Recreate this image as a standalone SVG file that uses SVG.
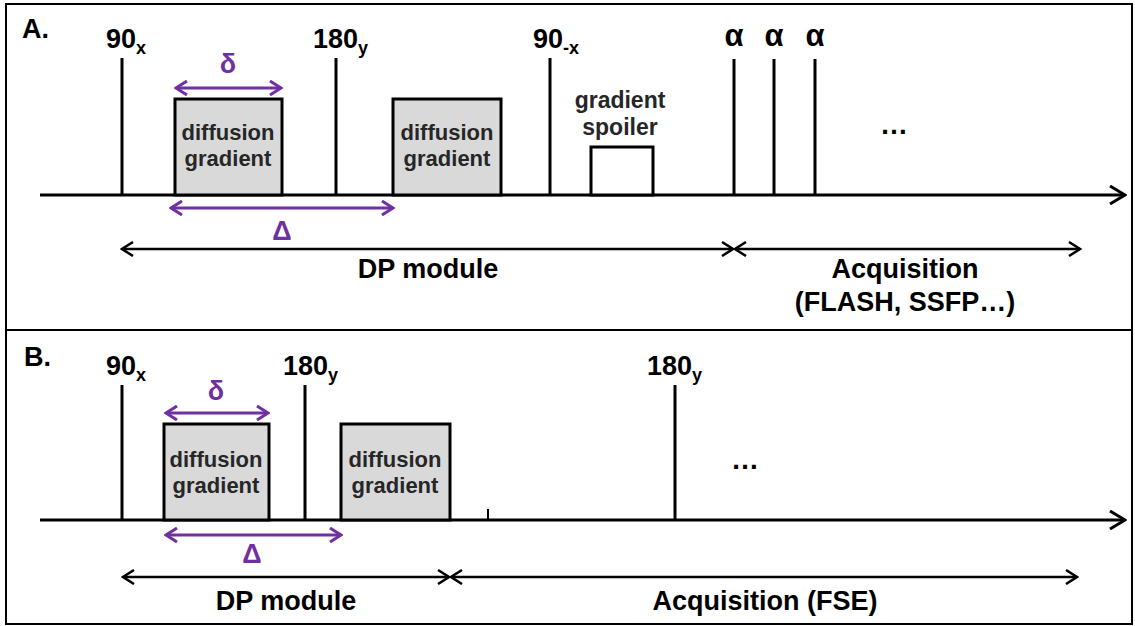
<svg xmlns="http://www.w3.org/2000/svg" width="1135" height="626" viewBox="0 0 1135 626">
<style>
text{font-family:"Liberation Sans",Arial,sans-serif;font-weight:bold;fill:#000}
.lbl{font-size:27px}
.alp{font-size:31px}
.sub{font-size:18px}
.box{font-size:22px;fill:#262626}
.dots{font-size:28px}
.pur{fill:#7030a0;font-size:27px}
.pulse{stroke:#000;stroke-width:3}
.grad{fill:#d9d9d9;stroke:#000;stroke-width:3}
.axis{stroke:#000;stroke-width:3;fill:none}
.parr{stroke:#7030a0;stroke-width:3;fill:none}
.barr{stroke:#000;stroke-width:2.5;fill:none}
</style>
<defs>
<marker id="ax" viewBox="0 0 18 20" refX="16" refY="10" markerWidth="18" markerHeight="20" markerUnits="userSpaceOnUse" orient="auto"><path d="M1,1 L16,10 L1,19" fill="none" stroke="#000" stroke-width="3"/></marker>
<marker id="pm" viewBox="0 0 14 16" refX="12" refY="8" markerWidth="14" markerHeight="16" markerUnits="userSpaceOnUse" orient="auto-start-reverse"><path d="M1,1 L12,8 L1,15" fill="none" stroke="#7030a0" stroke-width="3"/></marker>
<marker id="bm" viewBox="0 0 14 16" refX="12" refY="8" markerWidth="14" markerHeight="16" markerUnits="userSpaceOnUse" orient="auto-start-reverse"><path d="M1,1 L12,8 L1,15" fill="none" stroke="#000" stroke-width="2.5"/></marker>
</defs>
<rect x="0" y="0" width="1135" height="626" fill="#fff"/>
<rect x="6" y="4" width="1126" height="620" fill="none" stroke="#000" stroke-width="2"/>
<line x1="6" y1="330" x2="1132" y2="330" stroke="#000" stroke-width="2"/>

<!-- Panel A -->
<g id="panelA-label"><text class="lbl" x="22" y="38">A.</text></g>
<g id="A-axis"><line class="axis" x1="40" y1="195" x2="1125" y2="195" marker-end="url(#ax)"/></g>
<g id="A-90x"><line class="pulse" x1="122" y1="58" x2="122" y2="195"/><text class="lbl" x="106" y="48">90<tspan class="sub" dy="6">x</tspan></text></g>
<g id="A-grad1"><rect class="grad" x="175" y="99" width="107" height="96"/><text class="box" text-anchor="middle" x="228" y="140">diffusion</text><text class="box" text-anchor="middle" x="228" y="166">gradient</text></g>
<g id="A-180y"><line class="pulse" x1="336" y1="58" x2="336" y2="195"/><text class="lbl" x="313" y="48">180<tspan class="sub" dy="6">y</tspan></text></g>
<g id="A-grad2"><rect class="grad" x="393" y="99" width="108" height="96"/><text class="box" text-anchor="middle" x="447" y="140">diffusion</text><text class="box" text-anchor="middle" x="447" y="166">gradient</text></g>
<g id="A-90mx"><line class="pulse" x1="550" y1="58" x2="550" y2="195"/><text class="lbl" x="533" y="48">90<tspan class="sub" dy="6">-x</tspan></text></g>
<g id="A-spoiler"><rect x="591" y="147" width="62" height="48" fill="#fff" stroke="#000" stroke-width="3"/><text class="box" style="font-size:23px" text-anchor="middle" x="620" y="108">gradient</text><text class="box" style="font-size:23px" text-anchor="middle" x="620" y="135">spoiler</text></g>
<g id="A-alpha1"><line class="pulse" x1="734" y1="59" x2="734" y2="195"/><text class="alp" text-anchor="middle" x="734" y="46">α</text></g>
<g id="A-alpha2"><line class="pulse" x1="774" y1="59" x2="774" y2="195"/><text class="alp" text-anchor="middle" x="774" y="46">α</text></g>
<g id="A-alpha3"><line class="pulse" x1="815" y1="59" x2="815" y2="195"/><text class="alp" text-anchor="middle" x="815" y="46">α</text></g>
<g id="A-dots"><text class="dots" text-anchor="middle" x="894" y="134">…</text></g>
<g id="A-labels">
<text class="pur" text-anchor="middle" x="228" y="73">δ</text>
<text class="pur" text-anchor="middle" x="282" y="240">Δ</text>
<text class="lbl" text-anchor="middle" x="428" y="278">DP module</text>
<text class="lbl" text-anchor="middle" x="905" y="278">Acquisition</text>
<text class="lbl" text-anchor="middle" x="905" y="311">(FLASH, SSFP…)</text>
</g>

<!-- Panel B -->
<g id="panelB-label"><text class="lbl" x="24" y="366">B.</text></g>
<g id="B-axis"><line class="axis" x1="40" y1="520" x2="1125" y2="520" marker-end="url(#ax)"/></g>
<g id="B-90x"><line class="pulse" x1="122" y1="385" x2="122" y2="520"/><text class="lbl" x="106" y="375">90<tspan class="sub" dy="6">x</tspan></text></g>
<g id="B-grad1"><rect class="grad" x="164" y="424" width="105" height="96"/><text class="box" text-anchor="middle" x="216" y="467">diffusion</text><text class="box" text-anchor="middle" x="216" y="493">gradient</text></g>
<g id="B-180y"><line class="pulse" x1="305" y1="385" x2="305" y2="520"/><text class="lbl" x="283" y="375">180<tspan class="sub" dy="6">y</tspan></text></g>
<g id="B-grad2"><rect class="grad" x="341" y="424" width="109" height="96"/><text class="box" text-anchor="middle" x="395" y="467">diffusion</text><text class="box" text-anchor="middle" x="395" y="493">gradient</text></g>
<g id="B-tick"><line stroke="#000" stroke-width="2" x1="488" y1="509" x2="488" y2="520"/></g>
<g id="B-180y2"><line class="pulse" x1="675" y1="385" x2="675" y2="520"/><text class="lbl" x="647" y="375">180<tspan class="sub" dy="6">y</tspan></text></g>
<g id="B-dots"><text class="dots" text-anchor="middle" x="745" y="469">…</text></g>
<g id="B-labels">
<text class="pur" text-anchor="middle" x="216" y="400">δ</text>
<text class="pur" text-anchor="middle" x="252" y="563">Δ</text>
<text class="lbl" text-anchor="middle" x="286" y="610">DP module</text>
<text class="lbl" text-anchor="middle" x="765" y="610">Acquisition (FSE)</text>
</g>

<g id="connectors">
<line class="parr" x1="176" y1="88" x2="281" y2="88" marker-start="url(#pm)" marker-end="url(#pm)"/>
<line class="parr" x1="171" y1="208" x2="393" y2="208" marker-start="url(#pm)" marker-end="url(#pm)"/>
<line class="barr" x1="122" y1="249" x2="733" y2="249" marker-start="url(#bm)" marker-end="url(#bm)"/>
<line class="barr" x1="735" y1="249" x2="1080" y2="249" marker-start="url(#bm)" marker-end="url(#bm)"/>
<line class="parr" x1="166" y1="413" x2="268" y2="413" marker-start="url(#pm)" marker-end="url(#pm)"/>
<line class="parr" x1="166" y1="535" x2="341" y2="535" marker-start="url(#pm)" marker-end="url(#pm)"/>
<line class="barr" x1="123" y1="577" x2="449" y2="577" marker-start="url(#bm)" marker-end="url(#bm)"/>
<line class="barr" x1="451" y1="577" x2="1077" y2="577" marker-start="url(#bm)" marker-end="url(#bm)"/>
</g>
</svg>
